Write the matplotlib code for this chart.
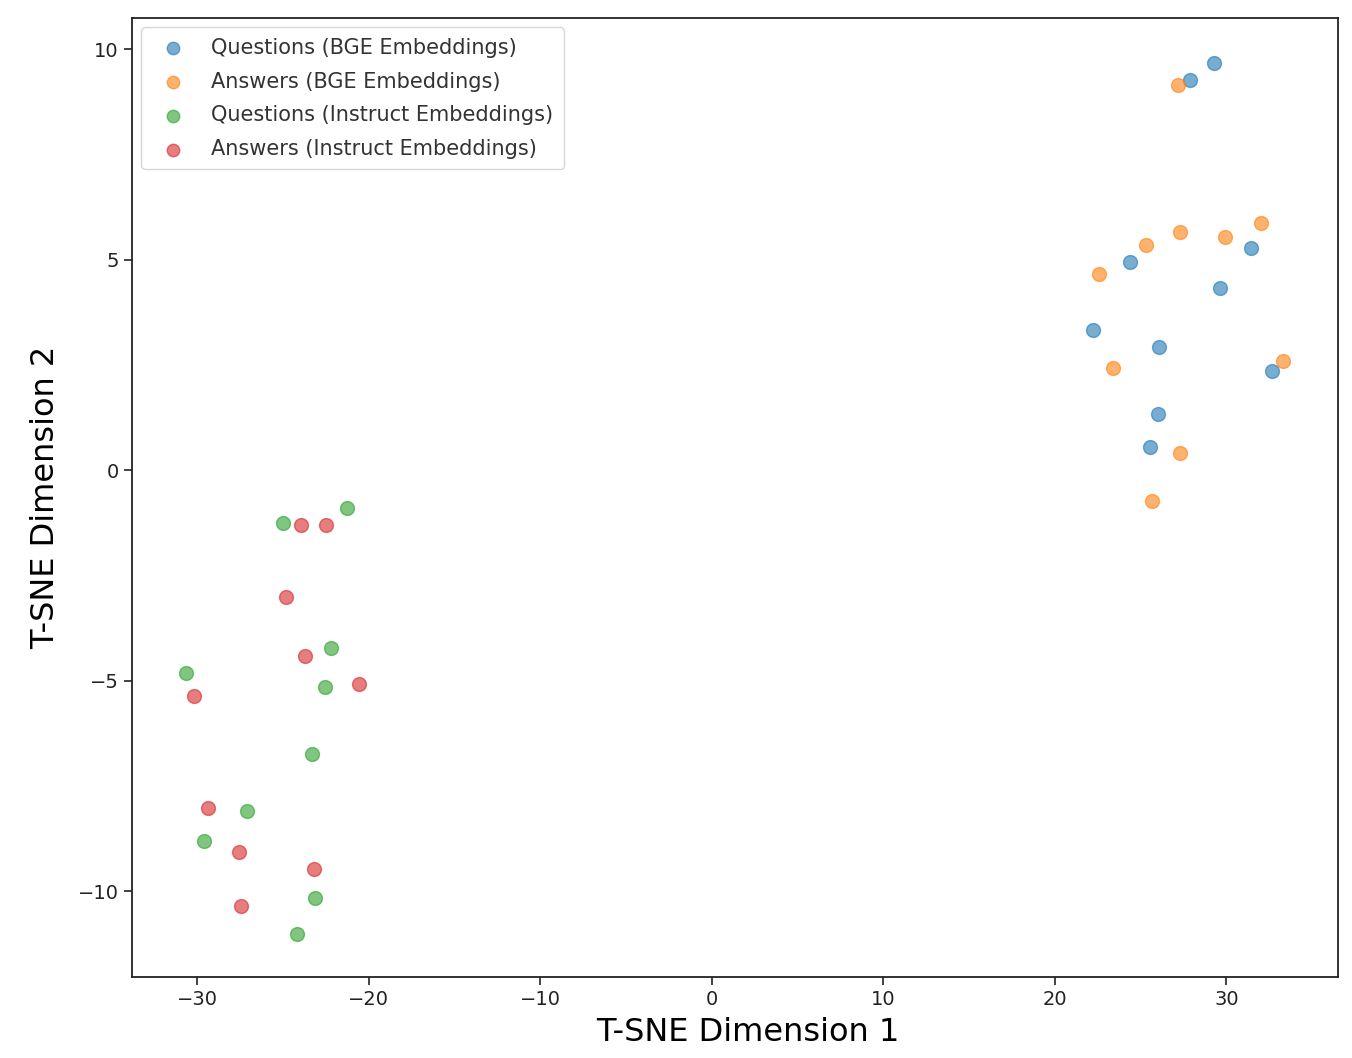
import matplotlib
matplotlib.use("Agg")
from matplotlib import pyplot as plt
import numpy as np

# t-SNE coordinates
q_bge_x = [29.27, 27.87, 24.37, 31.43, 29.62, 22.22, 26.06, 32.65, 26.00, 25.54]
q_bge_y = [9.67, 9.26, 4.94, 5.27, 4.32, 3.33, 2.92, 2.35, 1.33, 0.55]

a_bge_x = [27.17, 32.01, 27.29, 29.91, 25.31, 22.57, 23.38, 33.29, 27.29, 25.66]
a_bge_y = [9.14, 5.87, 5.65, 5.53, 5.34, 4.66, 2.42, 2.59, 0.40, -0.74]

q_ins_x = [-21.28, -25.01, -22.22, -22.57, -30.67, -23.32, -27.11, -29.62, -23.15, -24.20]
q_ins_y = [-0.90, -1.26, -4.23, -5.15, -4.82, -6.75, -8.10, -8.81, -10.17, -11.02]

a_ins_x = [-23.97, -22.51, -24.84, -23.73, -20.58, -30.20, -29.39, -27.58, -23.21, -27.46]
a_ins_y = [-1.31, -1.31, -3.02, -4.42, -5.08, -5.37, -8.03, -9.07, -9.48, -10.36]

labels = ['Questions (BGE Embeddings)', 'Answers (BGE Embeddings)',
          'Questions (Instruct Embeddings)', 'Answers (Instruct Embeddings)']

fig = plt.figure(figsize=(13.52, 10.58), dpi=100)
ax = fig.add_axes([132/1352, 1-977/1058, (1338-132)/1352, (977-18)/1058])

for xs, ys, lab in zip([q_bge_x, a_bge_x, q_ins_x, a_ins_x],
                       [q_bge_y, a_bge_y, q_ins_y, a_ins_y], labels):
    ax.scatter(xs, ys, s=100, alpha=0.6, label=lab)

ax.set_xlim(-33.8, 36.5)
ax.set_ylim(-12.04, 10.74)
ax.set_xticks([-30, -20, -10, 0, 10, 20, 30])
ax.set_yticks([-10, -5, 0, 5, 10])
ax.tick_params(labelsize=14, length=6, width=1.2, colors='#222222')
for sp in ax.spines.values():
    sp.set_linewidth(1.3)
    sp.set_color('#222222')

ax.set_xlabel('T-SNE Dimension 1', fontsize=23)
ax.set_ylabel('T-SNE Dimension 2', fontsize=23)
ax.xaxis.set_label_coords(0.511, -0.042)
ax.yaxis.set_label_coords(-0.059, 0.5)

leg = ax.legend(loc='upper left', fontsize=15, borderpad=0.5, handletextpad=0.85,
                labelspacing=0.66, markerscale=0.9, borderaxespad=0.45)
for t in leg.get_texts():
    t.set_color('#333333')

fig.savefig('out.png', dpi=100)
